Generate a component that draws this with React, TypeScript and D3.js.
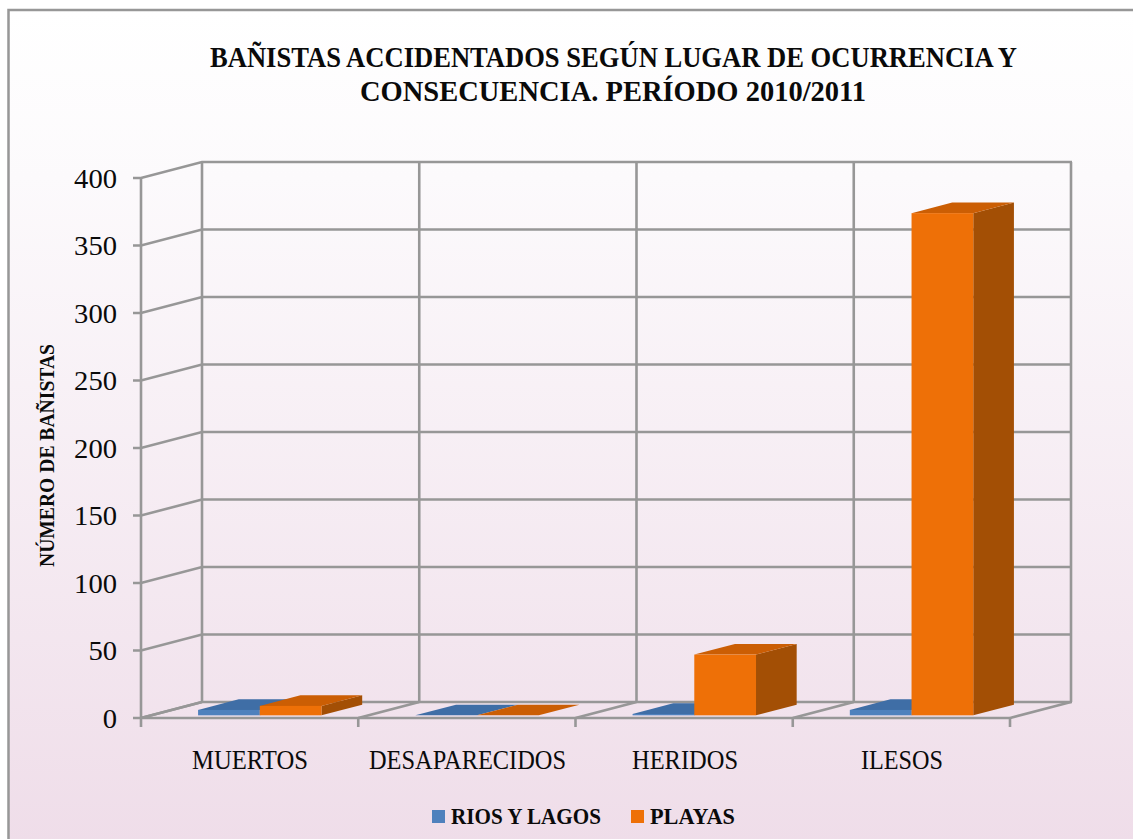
import React from "react";
import { scaleBand, scaleLinear } from "d3";

const categories = ["MUERTOS", "DESAPARECIDOS", "HERIDOS", "ILESOS"];
const seriesNames = ["RIOS Y LAGOS", "PLAYAS"];
const riosYLagos = [4, 0, 1, 4];
const playas = [7, 0, 45, 372];
const yTicks = [0, 50, 100, 150, 200, 250, 300, 350, 400];

const titleLines = [
  "BAÑISTAS ACCIDENTADOS SEGÚN LUGAR DE OCURRENCIA Y",
  "CONSECUENCIA. PERÍODO 2010/2011",
];
const yTitle = "NÚMERO DE BAÑISTAS";

const colors = [
  { front: "#4F81BD", top: "#3F6EA6", side: "#2F5C8E" },
  { front: "#EE7007", top: "#CB5E04", side: "#A34F05" },
];

const font = "'Liberation Serif', serif";
const gridColor = "#979797";

// plot box
const x0 = 141;
const x1 = 1010;
const yBase = 718;
const yTop = 178;
const depthX = 61;
const depthY = -16;

const xScale = scaleBand<string>().domain(categories).range([x0, x1]);
const seriesScale = scaleBand<string>()
  .domain(seriesNames)
  .range([0, xScale.bandwidth()])
  .paddingOuter(0.76);
const yScale = scaleLinear().domain([0, 400]).range([yBase, yTop]);

// boundaries between the categories
const edges = [...categories.map((c) => xScale(c) as number), x1];

// text widths are fitted because the original font is not available
const catLabels = [
  { x: 192, w: 116 },
  { x: 369, w: 197 },
  { x: 632, w: 106 },
  { x: 861, w: 82 },
];
const legendItems = [
  { sx: 432, tx: 451, w: 150 },
  { sx: 631, tx: 650, w: 85 },
];

function pts(list: number[][]) {
  return list.map((p) => p.join(",")).join(" ");
}

function Bar({ cat, si, value }: { cat: string; si: number; value: number }) {
  const c = colors[si];
  const w = seriesScale.bandwidth();
  // the bar stands 1/6 of the way into the floor and ends at 5/6
  const bx = (xScale(cat) as number) + (seriesScale(seriesNames[si]) as number) + depthX / 6;
  const by = yBase + depthY / 6;
  const h = yBase - yScale(value);
  const ddx = (depthX * 2) / 3;
  const ddy = (depthY * 2) / 3;
  const t = by - h;
  return (
    <g>
      <polygon
        points={pts([[bx + w, by], [bx + w + ddx, by + ddy], [bx + w + ddx, t + ddy], [bx + w, t]])}
        fill={c.side}
      />
      <polygon
        points={pts([[bx, t], [bx + ddx, t + ddy], [bx + w + ddx, t + ddy], [bx + w, t]])}
        fill={c.top}
      />
      <rect x={bx} y={t} width={w} height={h} fill={c.front} />
    </g>
  );
}

export default function App() {
  return (
    <svg
      width={1133}
      height={839}
      style={{ position: "fixed", left: 0, top: 0, background: "#fff" }}
      fontFamily={font}
    >
      <defs>
        <linearGradient id="bg" x1="0" y1="0" x2="0" y2="1">
          <stop offset="0" stopColor="#FFFFFF" />
          <stop offset="0.2" stopColor="#FCFAFC" />
          <stop offset="1" stopColor="#EFDDE9" />
        </linearGradient>
      </defs>
      <rect x={8.5} y={10} width={1130} height={835} fill="url(#bg)" />
      <path d="M8.5 845V10H1133" fill="none" stroke={gridColor} strokeWidth={2.5} />

      {titleLines.map((t, i) => (
        <text
          key={t}
          x={i === 0 ? 210 : 360}
          y={i === 0 ? 67 : 101}
          fontSize={29}
          fontWeight="bold"
          textLength={i === 0 ? 807 : 506}
          lengthAdjust="spacingAndGlyphs"
          fill="#0a0a0a"
        >
          {t}
        </text>
      ))}

      {/* walls and floor */}
      <g stroke={gridColor} strokeWidth={2.6} fill="none">
        {yTicks.map((v) => (
          <path
            key={v}
            d={`M${x0 - 8} ${yScale(v)}H${x0}L${x0 + depthX} ${yScale(v) + depthY}H${x1 + depthX + 1}`}
          />
        ))}
        <line x1={x0} x2={x0} y1={yTop} y2={yBase} />
        {edges.map((e) => (
          <g key={e}>
            <line x1={e + depthX} x2={e + depthX} y1={yTop + depthY} y2={yBase + depthY} />
            <line x1={e} x2={e + depthX} y1={yBase} y2={yBase + depthY} />
            <line x1={e} x2={e} y1={yBase} y2={yBase + 9} />
          </g>
        ))}
        <line x1={x0} x2={x1} y1={yBase} y2={yBase} />
      </g>

      {categories.map((c, i) => (
        <g key={c}>
          <Bar cat={c} si={0} value={riosYLagos[i]} />
          <Bar cat={c} si={1} value={playas[i]} />
        </g>
      ))}

      {yTicks.map((v) => (
        <text
          key={v}
          x={117}
          y={yScale(v) + 9.5}
          fontSize={27}
          textAnchor="end"
          textLength={String(v).length * 14.3}
          lengthAdjust="spacingAndGlyphs"
          fill="#0a0a0a"
        >
          {v}
        </text>
      ))}

      {categories.map((c, i) => (
        <text
          key={c}
          x={catLabels[i].x}
          y={769}
          fontSize={27}
          textLength={catLabels[i].w}
          lengthAdjust="spacingAndGlyphs"
          fill="#0a0a0a"
        >
          {c}
        </text>
      ))}

      <text
        transform="translate(54,567) rotate(-90)"
        fontSize={21}
        fontWeight="bold"
        textLength={223}
        lengthAdjust="spacingAndGlyphs"
        fill="#0a0a0a"
      >
        {yTitle}
      </text>

      {seriesNames.map((s, i) => (
        <g key={s}>
          <rect x={legendItems[i].sx} y={810} width={13} height={13} fill={colors[i].front} />
          <text
            x={legendItems[i].tx}
            y={824}
            fontSize={23}
            fontWeight="bold"
            textLength={legendItems[i].w}
            lengthAdjust="spacingAndGlyphs"
            fill="#0a0a0a"
          >
            {s}
          </text>
        </g>
      ))}
    </svg>
  );
}
